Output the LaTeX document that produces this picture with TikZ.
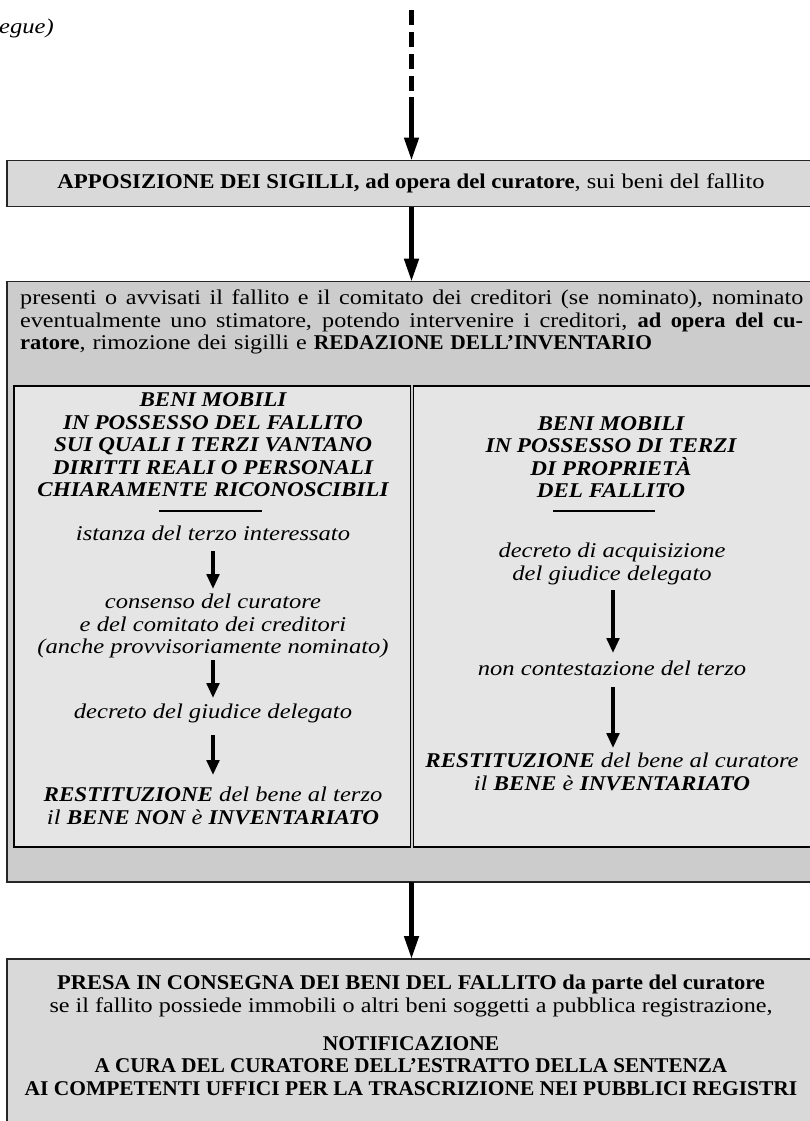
\documentclass[tikz,border=0pt]{standalone}
\usepackage{graphicx}
\usepackage{fontspec}
\setmainfont{Liberation Serif}[
  UprightFeatures={FakeStretch=1.15},
  BoldFeatures={FakeStretch=1.07},
  ItalicFeatures={FakeStretch=1.17},
  BoldItalicFeatures={FakeStretch=1.1}]
\usetikzlibrary{arrows.meta}
\definecolor{boxlight}{gray}{0.85}
\definecolor{boxmid}{gray}{0.80}
\definecolor{boxinner}{gray}{0.90}
\newcommand{\jline}[1]{\noindent\hbox to 783pt{\spaceskip=0.3em plus 1em minus 0.05em\relax#1}}
\newcommand{\narrowline}[1]{\scalebox{0.955}[1]{#1}}
\begin{document}
\begin{tikzpicture}[x=1pt,y=-1pt,
  outerbox/.style={draw=black!85,line width=1.3pt,inner sep=0pt,outer sep=0pt},
  innerbox/.style={draw=black,line width=1.5pt,fill=boxinner,inner sep=0pt,outer sep=0pt},
  txt/.style={font=\fontsize{21}{22.5}\selectfont,align=center,inner sep=0pt},
  itxt/.style={font=\fontsize{21}{22.5}\selectfont\itshape,align=center,inner sep=0pt},
  headtxt/.style={font=\fontsize{21}{22.5}\selectfont\bfseries\itshape,align=center,inner sep=0pt},
  bigarrow/.style={line width=4.6pt,-{Triangle[length=23pt,width=14pt]}},
  smallarrow/.style={line width=3.6pt,-{Triangle[length=15pt,width=12.5pt]}},
  dasharrow/.style={line width=4.6pt,dash pattern=on 15pt off 7pt}
]
\fill[white] (0,0) rectangle (810,1121);
\useasboundingbox (0,0) rectangle (810,1121);

% continuation label
\node[itxt,anchor=east] (segue) at (54,28) {egue)};

% boxes
\node[outerbox,fill=boxlight,minimum width=808pt,minimum height=46pt] (B1) at (411,183.5) {};
\node[outerbox,fill=boxmid,minimum width=808pt,minimum height=600.3pt] (B2) at (411,581.85) {};
\node[outerbox,fill=boxlight,minimum width=808pt,minimum height=200pt] (B3) at (411,1059) {};

% inner boxes
\node[innerbox,minimum width=396.5pt,minimum height=461pt] (LB) at (212.25,616.5) {};
\node[innerbox,minimum width=398.5pt,minimum height=461pt] (RB) at (612.75,616.5) {};

% top dashed arrow
\coordinate (d0) at (411.5,10);
\coordinate (d1) at (411.5,92);
\coordinate (d2) at (411.5,97);
\draw[dasharrow] (d0) -- (d1);
\draw[bigarrow] (d2) -- (B1.north -| d2);

% box 1 text
\node[txt] (T1) at (411,183) {\scalebox{1.015}[1]{\textbf{APPOSIZIONE DEI SIGILLI, ad opera del curatore}, sui beni del fallito}};

% arrows between boxes
\draw[bigarrow] (B1.south -| d2) -- (B2.north -| d2);
\draw[bigarrow] (B2.south -| d2) -- (B3.north -| d2);

% box 2 paragraph
\node[txt,anchor=west,align=left,text width=783pt] (P) at (20,322) {%
\jline{presenti o avvisati il fallito e il comitato dei creditori (se nominato), nominato}\\
\jline{eventualmente uno stimatore, potendo intervenire i creditori, \textbf{ad opera del cu-}}\\
\textbf{ratore}, rimozione dei sigilli e \narrowline{\textbf{REDAZIONE DELL’INVENTARIO}}};

% left column
\node[headtxt] (LH) at (213,445) {BENI MOBILI\\IN POSSESSO DEL FALLITO\\SUI QUALI I TERZI VANTANO\\DIRITTI REALI O PERSONALI\\CHIARAMENTE RICONOSCIBILI};
\draw[line width=1.3pt] (159,511) -- (262,511);
\node[itxt] (L1) at (213,533) {istanza del terzo interessato};
\node[itxt] (L2) at (213,626) {consenso del curatore\\e del comitato dei creditori\\(anche provvisoriamente nominato)};
\node[itxt] (L3) at (213,713) {decreto del giudice delegato};
\node[itxt] (L4) at (213,806) {\textbf{RESTITUZIONE} del bene al terzo\\il \textbf{BENE NON} è \textbf{INVENTARIATO}};
\draw[smallarrow,shorten <=18pt,shorten >=37pt] (L1.center) -- (L2.center);
\draw[smallarrow,shorten <=34pt,shorten >=15pt] (L2.center) -- (L3.center);
\draw[smallarrow,shorten <=22pt,shorten >=31pt] (L3.center) -- (L4.center);

% right column
\node[headtxt] (RH) at (611,457) {BENI MOBILI\\IN POSSESSO DI TERZI\\DI PROPRIETÀ\\DEL FALLITO};
\draw[line width=1.3pt] (553,511) -- (655,511);
\node[itxt] (R1) at (612,564) {decreto di acquisizione\\del giudice delegato};
\node[itxt] (R2) at (612,668) {non contestazione del terzo};
\node[itxt] (R3) at (612,772) {\textbf{RESTITUZIONE} del bene al curatore\\il \textbf{BENE} è \textbf{INVENTARIATO}};
\draw[smallarrow,shorten <=26pt,shorten >=15pt] (R1.center -| 613,0) -- (R2.center -| 613,0);
\draw[smallarrow,shorten <=19pt,shorten >=24pt] (R2.center -| 613,0) -- (R3.center -| 613,0);

% box 3 text
\node[txt] (T3a) at (411,996) {\textbf{PRESA IN CONSEGNA DEI BENI DEL FALLITO da parte del curatore}\\se il fallito possiede immobili o altri beni soggetti a pubblica registrazione,};
\node[txt,font=\fontsize{21}{22.5}\selectfont\bfseries] (T3b) at (411,1066) {\narrowline{NOTIFICAZIONE}\\\scalebox{0.94}[1]{A CURA DEL CURATORE DELL’ESTRATTO DELLA SENTENZA}\\\narrowline{AI COMPETENTI UFFICI PER LA TRASCRIZIONE NEI PUBBLICI REGISTRI}};
\end{tikzpicture}
\end{document}
